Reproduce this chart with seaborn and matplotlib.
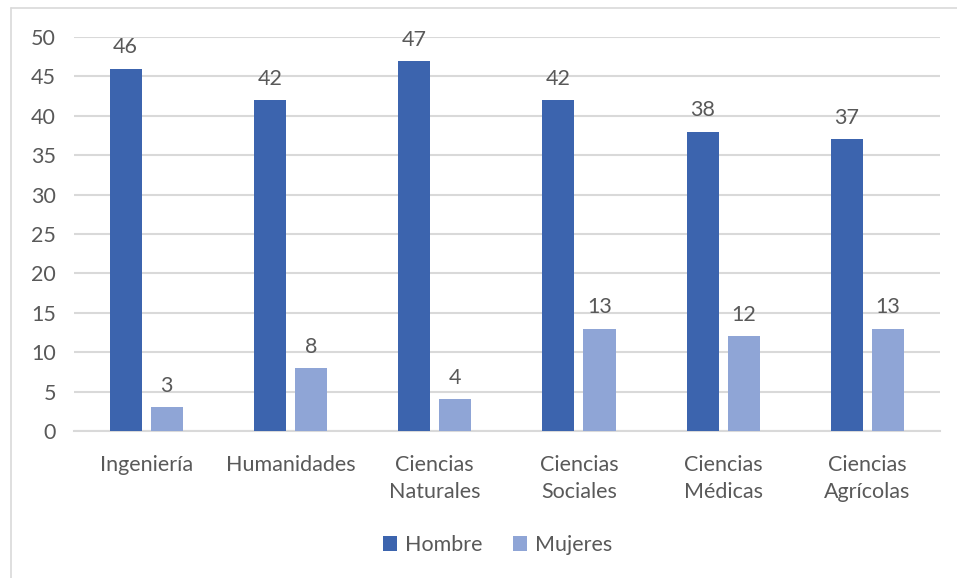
import matplotlib
matplotlib.use("Agg")
import matplotlib.pyplot as plt
from matplotlib.lines import Line2D
from matplotlib.patches import Patch
import seaborn as sns
import pandas as pd

categories = ["Ingeniería", "Humanidades", "Ciencias\nNaturales", "Ciencias\nSociales",
              "Ciencias\nMédicas", "Ciencias\nAgrícolas"]
hombre = [46, 42, 47, 42, 38, 37]
mujeres = [3, 8, 4, 13, 12, 13]
series = ["Hombre", "Mujeres"]
colors = ["#3C64AE", "#8FA5D6"]
text_color = "#595959"
grid_color = "#D9D9D9"
fs = 15.5

df = pd.DataFrame({
    "area": categories * 2,
    "valor": hombre + mujeres,
    "sexo": [series[0]] * len(categories) + [series[1]] * len(categories),
})

sns.set_theme(style="white")
plt.rcParams["font.family"] = ["Lato", "DejaVu Sans"]

fig = plt.figure(figsize=(9.57, 5.78), dpi=100)
ax = fig.add_axes([0.0773, 0.2543, 0.9045, 0.6817])

sns.barplot(data=df, x="area", y="valor", hue="sexo", palette=colors, saturation=1,
            width=0.57, gap=0.22, ax=ax, legend=False, zorder=3, edgecolor="none")

for cont in ax.containers:
    ax.bar_label(cont, padding=8, fontsize=fs, color=text_color)

ax.set_ylim(0, 50)
ax.set_xlim(-0.5, len(categories) - 0.5)
ax.set_yticks(range(0, 51, 5))
ax.yaxis.grid(True, color=grid_color, linewidth=1.5, zorder=0)
ax.set_axisbelow(True)
for side in ["top", "right", "left"]:
    ax.spines[side].set_visible(False)
ax.spines["bottom"].set_color(grid_color)
ax.spines["bottom"].set_linewidth(1.5)
ax.tick_params(axis="both", length=0, labelsize=fs, labelcolor=text_color)
ax.tick_params(axis="x", pad=17)
ax.tick_params(axis="y", pad=13)
for lbl in ax.get_xticklabels():
    lbl.set_linespacing(1.45)
ax.set_xlabel("")
ax.set_ylabel("")

handles = [Patch(facecolor=c, edgecolor="none") for c in colors]
fig.legend(handles, series, loc="center", bbox_to_anchor=(0.52, 0.057), ncol=2,
           frameon=False, fontsize=fs, labelcolor=text_color,
           handlelength=0.65, handleheight=0.65, handletextpad=0.4, columnspacing=1.4)

# chart frame (left and top edges)
fig.add_artist(Line2D([10.5 / 957, 10.5 / 957], [0, 1 - 7.5 / 578], color=grid_color,
                      linewidth=1.2, transform=fig.transFigure))
fig.add_artist(Line2D([10.5 / 957, 1], [1 - 7.5 / 578, 1 - 7.5 / 578], color=grid_color,
                      linewidth=1.2, transform=fig.transFigure))

fig.savefig("out.png", dpi=100, facecolor="white")
